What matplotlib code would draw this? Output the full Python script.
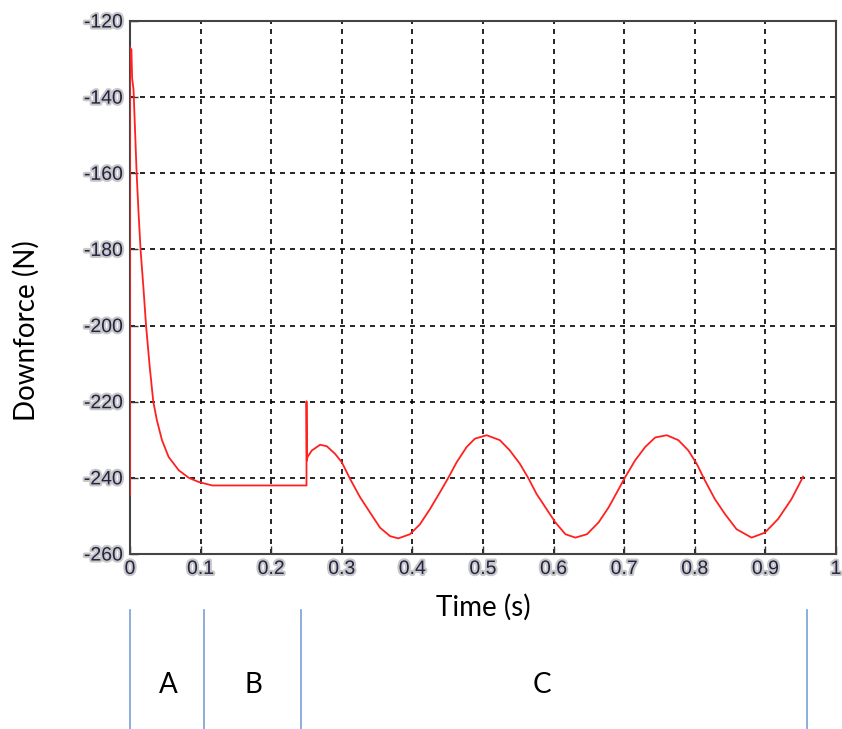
import matplotlib
matplotlib.use("Agg")
import matplotlib.pyplot as plt
import matplotlib.patheffects as pe

plt.rcParams["axes.unicode_minus"] = False

# downforce trace (time in s, force in N)
time_s = [0.0, 0.0, 0.002, 0.003, 0.005, 0.007, 0.0094, 0.012, 0.015, 0.019, 0.0227,
          0.028, 0.033, 0.038, 0.0453, 0.0547, 0.069, 0.0833, 0.0976, 0.1167, 0.16,
          0.20, 0.250, 0.250, 0.2505, 0.2515, 0.2576, 0.2693, 0.2788, 0.2905, 0.300,
          0.3118, 0.3259, 0.340, 0.3542, 0.3683, 0.380, 0.3966, 0.4107, 0.4249,
          0.439, 0.4508, 0.4627, 0.4768, 0.4886, 0.5051, 0.5239, 0.538, 0.5522,
          0.564, 0.5758, 0.590, 0.6025, 0.6167, 0.6308, 0.6473, 0.6637, 0.6778,
          0.6897, 0.7014, 0.7155, 0.7297, 0.7438, 0.7603, 0.7767, 0.7908, 0.8027,
          0.8144, 0.8285, 0.8427, 0.8592, 0.8804, 0.8992, 0.918, 0.9369, 0.9534]
force_n = [-244.5, -127.0, -127.5, -135.0, -138.0, -148.0, -160.0, -170.0, -180.2, -190.0, -199.9,
           -211.0, -220.0, -224.8, -230.1, -234.5, -238.0, -240.0, -241.1, -242.0, -242.0,
           -242.0, -242.0, -219.9, -235.5, -234.5, -232.8, -231.3, -231.7, -233.7, -235.9,
           -240.3, -245.1, -249.1, -253.1, -255.3, -255.9, -254.8, -252.2, -248.2,
           -243.8, -240.0, -235.9, -231.9, -229.7, -228.8, -230.1, -232.8, -236.3,
           -240.0, -244.2, -248.2, -251.7, -254.8, -255.7, -254.8, -251.7, -247.8,
           -243.8, -239.8, -235.4, -231.9, -229.4, -228.8, -230.1, -232.8, -236.3,
           -240.7, -245.6, -249.5, -253.5, -255.7, -254.4, -250.8, -245.6, -239.7]

x_ticks = [0, 0.1, 0.2, 0.3, 0.4, 0.5, 0.6, 0.7, 0.8, 0.9, 1]
x_tick_labels = ["0", "0.1", "0.2", "0.3", "0.4", "0.5", "0.6", "0.7", "0.8", "0.9", "1"]
y_ticks = [-260, -240, -220, -200, -180, -160, -140, -120]

# phase markers under the plot
phase_bounds = [0.0, 0.105, 0.242, 0.959]
phase_names = ["A", "B", "C"]
phase_label_x = [0.054, 0.175, 0.583]

fig = plt.figure(figsize=(8.42, 7.29), dpi=100)
ax = fig.add_axes([130 / 842, 1 - 554 / 729, 706 / 842, 533 / 729])

ax.plot(time_s, force_n, color="#ff2020", linewidth=1.3, zorder=3)

ax.set_xlim(0, 1)
ax.set_ylim(-260, -120)
ax.set_xticks(x_ticks)
ax.set_xticklabels(x_tick_labels)
ax.set_yticks(y_ticks)
ax.grid(True, color="black", linestyle=(0, (3, 3)), linewidth=1.2)
ax.tick_params(direction="in", length=6, width=1, colors="#333333", labelcolor="#222244",
               labelsize=14, pad=5)
for s in ax.spines.values():
    s.set_color("#444444")
    s.set_linewidth(1.5)

halo = [pe.withStroke(linewidth=3, foreground="#c8c8c8")]
for lab in ax.get_xticklabels() + ax.get_yticklabels():
    lab.set_fontfamily("Liberation Sans")
    lab.set_path_effects(halo)

ax.set_xlabel("Time (s)", fontsize=20, fontfamily="Lato", labelpad=4)
ax.set_ylabel("Downforce (N)", fontsize=20, fontfamily="Lato")
ax.xaxis.set_label_coords(0.5, -0.075)
ax.yaxis.set_label_coords(-0.128, 0.42)

trans = ax.get_xaxis_transform()
for b in phase_bounds:
    ax.plot([b, b], [-0.105, -0.33], color="#7a9fd4", linewidth=1.2,
            transform=trans, clip_on=False)
for name, lx in zip(phase_names, phase_label_x):
    ax.text(lx, -0.245, name, fontsize=20, fontfamily="Lato", ha="center",
            va="center", transform=trans)

fig.savefig("out.png", dpi=100)
